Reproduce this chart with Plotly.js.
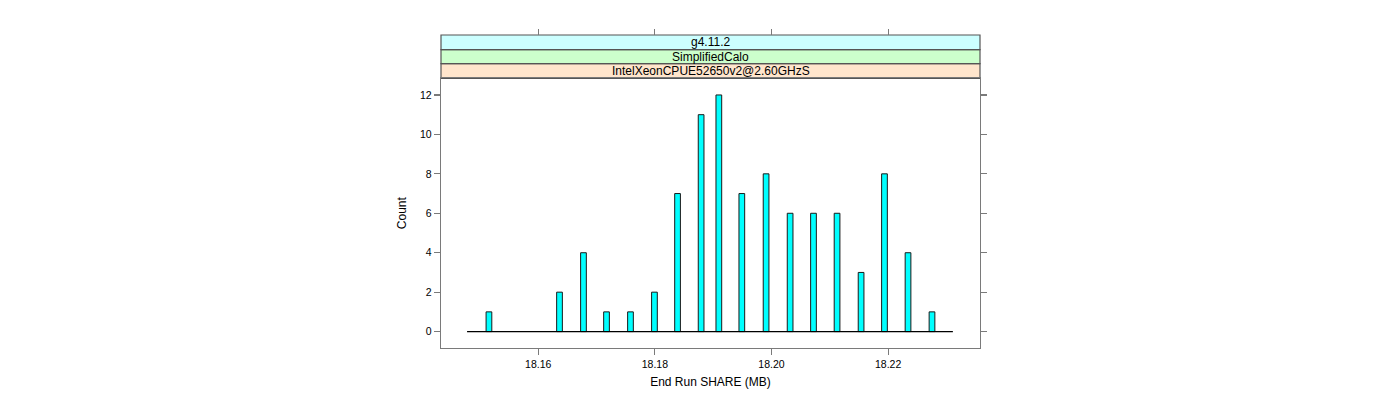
<!DOCTYPE html>
<html>
<head>
<meta charset="utf-8">
<script src="https://cdn.plot.ly/plotly-3.0.1.min.js"></script>
<style>html,body{margin:0;padding:0;background:#fff;}#chart{width:1400px;height:400px;}</style>
</head>
<body>
<div id="chart"></div>
<script>
// Data
const shareMB = [18.15155, 18.16365, 18.16776, 18.17171, 18.17582, 18.17993, 18.18389, 18.18793, 18.19097,
                 18.19491, 18.19907, 18.20319, 18.2072, 18.21124, 18.21536, 18.21937, 18.22341, 18.22752];
const counts  = [1, 2, 4, 1, 1, 2, 7, 11, 12, 7, 8, 6, 6, 6, 3, 8, 4, 1];
const baselineExtent = [18.1478, 18.2311];
const baselineLevel = [0, 0];
const xTicks = [18.16, 18.18, 18.20, 18.22];
const xTickText = ["18.16", "18.18", "18.20", "18.22"];
const yTicks = [0, 2, 4, 6, 8, 10, 12];
const stripLabels = ["IntelXeonCPUE52650v2@2.60GHzS", "SimplifiedCalo", "g4.11.2"];
const stripColors = ["#ffe5cc", "#ccffcc", "#ccffff"];

const xRange = [18.14333, 18.23575];
const yRange = [-0.832, 12.845];
const font = "Liberation Sans, Arial, Helvetica, sans-serif";
const frameCol = "#7a7a7a";

const traces = [
  {
    type: "scatter", mode: "lines",
    x: baselineExtent, y: baselineLevel,
    line: {color: "#000", width: 1.2},
    hoverinfo: "skip", showlegend: false
  },
  {
    type: "bar",
    x: shareMB, y: counts,
    width: 0.00098,
    marker: {color: "#00ffff", line: {color: "#1a1a1a", width: 1}},
    hoverinfo: "skip", showlegend: false
  },
  {
    type: "scatter", mode: "markers",
    x: [null], y: [null], xaxis: "x2", yaxis: "y2",
    hoverinfo: "skip", showlegend: false
  }
];

// Plot area: y from 34.7 (strip top) to 347.7 (panel bottom)
const H = 313; // plot-area height
const yPanelTop = (347.7 - 78) / H;
const stripEdges = [yPanelTop, (347.7 - 63.3) / H, (347.7 - 49.3) / H, 1.0];

const shapes = [];
const annotations = [];
for (let i = 0; i < 3; i++) {
  shapes.push({
    type: "rect", xref: "paper", yref: "paper",
    x0: 0, x1: 1, y0: stripEdges[i], y1: stripEdges[i + 1],
    fillcolor: stripColors[i], line: {color: "#555", width: 1.2}, layer: "below"
  });
  annotations.push({
    xref: "paper", yref: "paper", x: 0.5, y: (stripEdges[i] + stripEdges[i + 1]) / 2,
    text: stripLabels[i], showarrow: false, xanchor: "center", yanchor: "middle",
    font: {family: font, size: 12, color: "#000"}
  });
}

const layout = {
  width: 1400, height: 400,
  margin: {l: 440.7, r: 420, t: 34.7, b: 52.3, pad: 0},
  paper_bgcolor: "#fff", plot_bgcolor: "#fff",
  font: {family: font, size: 10.5, color: "#000"},
  showlegend: false,
  xaxis: {
    range: xRange, domain: [0, 1],
    tickvals: xTicks, ticktext: xTickText,
    ticks: "outside", ticklen: 6, tickwidth: 1.2, tickcolor: frameCol,
    showline: true, linecolor: frameCol, linewidth: 1.3, mirror: true,
    showgrid: false, zeroline: false,
    tickfont: {family: font, size: 10.5, color: "#000"},
    title: {text: "End Run SHARE (MB)", font: {family: font, size: 12, color: "#000"}, standoff: 8}
  },
  yaxis: {
    range: yRange, domain: [0, yPanelTop],
    tickvals: yTicks,
    ticks: "outside", ticklen: 6, tickwidth: 1.2, tickcolor: frameCol,
    showline: true, linecolor: frameCol, linewidth: 1.3, mirror: true,
    showgrid: false, zeroline: false,
    tickfont: {family: font, size: 10.5, color: "#000"},
    title: {text: "Count", font: {family: font, size: 12, color: "#000"}, standoff: 10}
  },
  xaxis2: {
    overlaying: "x", side: "top", anchor: "free", position: 1,
    range: xRange, tickvals: xTicks,
    ticks: "outside", ticklen: 6, tickwidth: 1.2, tickcolor: frameCol,
    showticklabels: false, showline: false, showgrid: false, zeroline: false
  },
  yaxis2: {
    overlaying: "y", side: "right", anchor: "x2",
    range: yRange, tickvals: yTicks,
    ticks: "outside", ticklen: 6, tickwidth: 1.2, tickcolor: frameCol,
    showticklabels: false, showline: false, showgrid: false, zeroline: false
  },
  shapes: shapes,
  annotations: annotations,
  bargap: 0
};

Plotly.newPlot("chart", traces, layout, {staticPlot: true, displayModeBar: false});
</script>
</body>
</html>
